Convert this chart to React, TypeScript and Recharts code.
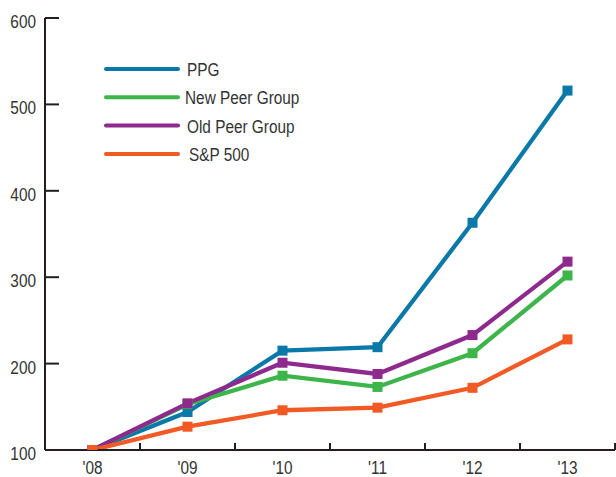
import React from "react";
import { LineChart, Line, XAxis, YAxis, Legend } from "recharts";

const years = ["'08", "'09", "'10", "'11", "'12", "'13"];
const ppg = [100, 144, 215, 219, 363, 516];
const newPeer = [100, 153, 186, 173, 212, 302];
const oldPeer = [100, 154, 201, 188, 233, 318];
const sp500 = [100, 127, 146, 149, 172, 228];
const yTicks = [100, 200, 300, 400, 500, 600];
const xTicks = [-0.5, 0.5, 1.5, 2.5, 3.5, 4.5, 5.5];

const series = [
  { key: "ppg", name: "PPG", color: "#0A78A8" },
  { key: "newPeer", name: "New Peer Group", color: "#3DB54A" },
  { key: "oldPeer", name: "Old Peer Group", color: "#8E2A8E" },
  { key: "sp", name: "S&P 500", color: "#F15A24" },
];

const data = years.map((y, i) => ({
  i,
  year: y,
  ppg: ppg[i],
  newPeer: newPeer[i],
  oldPeer: oldPeer[i],
  sp: sp500[i],
}));

const FONT = "'Liberation Sans', Arial, sans-serif";
const AXIS = "#231F20";
const BAND = 95;
const SX = 0.83;

const NarrowText = ({ x, y, anchor, children }: any) => (
  <g transform={`translate(${x},${y}) scale(${SX},1)`}>
    <text x={0} y={0} textAnchor={anchor} fontFamily={FONT} fontSize={18.5} fill="#333">
      {children}
    </text>
  </g>
);

const XTick = (props: any) => {
  const { x, y, payload } = props;
  const v = payload.value as number;
  const idx = v + 0.5;
  return (
    <g>
      {v > -0.5 && <line x1={x} x2={x} y1={y} y2={y - 7} stroke={AXIS} strokeWidth={2} />}
      {idx < years.length && (
        <NarrowText x={x + BAND / 2} y={y + 24} anchor="middle">
          {years[idx]}
        </NarrowText>
      )}
    </g>
  );
};

const YTick = (props: any) => {
  const { x, y, payload } = props;
  return (
    <g>
      <line x1={x} x2={x + 14} y1={y} y2={y} stroke={AXIS} strokeWidth={2} />
      <NarrowText x={x - 9} y={y + 10} anchor="end">
        {payload.value}
      </NarrowText>
    </g>
  );
};

const makeDot = (color: string) => (p: any) => {
  const { cx, cy, index } = p;
  return <rect key={index} x={cx - 5} y={cy - 5} width={10} height={10} fill={color} />;
};

const LegendContent = () => (
  <svg width={220} height={110} style={{ overflow: "visible", display: "block" }}>
    {series.map((s, k) => (
      <g key={s.key}>
        <line x1={2} x2={74} y1={2 + k * 28.3} y2={2 + k * 28.3} stroke={s.color} strokeWidth={4} strokeLinecap="round" />
        <NarrowText x={[83, 81, 83, 85][k]} y={k * 28.3 + 9} anchor="start">
          {s.name}
        </NarrowText>
      </g>
    ))}
  </svg>
);

export default function App() {
  return (
    <div style={{ position: "absolute", left: 0, top: 0, background: "#fff" }}>
      <LineChart width={616} height={477} data={data} margin={{ top: 18, right: 1, bottom: 0, left: 0 }}>
        <XAxis
          dataKey="i"
          type="number"
          domain={[-0.5, 5.5]}
          ticks={xTicks}
          interval={0}
          height={27}
          tickSize={0}
          tickMargin={0}
          tickLine={false}
          tick={<XTick />}
          axisLine={{ stroke: AXIS, strokeWidth: 2 }}
        />
        <YAxis
          domain={[100, 600]}
          ticks={yTicks}
          width={45}
          tickSize={0}
          tickMargin={0}
          tickLine={false}
          tick={<YTick />}
          axisLine={{ stroke: AXIS, strokeWidth: 2 }}
          allowDataOverflow
        />
        <Legend
          verticalAlign="middle"
          align="center"
          layout="horizontal"
          content={<LegendContent />}
          wrapperStyle={{ position: "absolute", left: 104, top: 67, width: 220, height: 110 }}
        />
        {series.map((s) => (
          <Line
            key={s.key}
            dataKey={s.key}
            name={s.name}
            stroke={s.color}
            strokeWidth={4.3}
            dot={makeDot(s.color)}
            activeDot={false}
            isAnimationActive={false}
          />
        ))}
      </LineChart>
    </div>
  );
}
